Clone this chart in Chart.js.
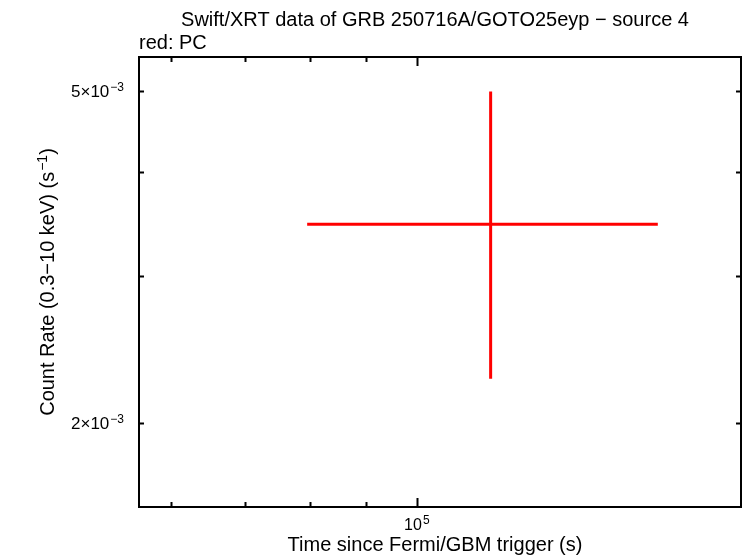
<!DOCTYPE html>
<html>
<head>
<meta charset="utf-8">
<script src="https://cdn.jsdelivr.net/npm/chart.js@4.4.0/dist/chart.umd.min.js"></script>
<style>
  html, body { margin: 0; padding: 0; background: #fff; }
  #wrap { width: 746px; height: 558px; }
</style>
</head>
<body>
<div id="wrap"><canvas id="lc" width="746" height="558"></canvas></div>
<script>
// PC mode point (time bin + rate error)
const timeMid = [116600];
const timeLo = [79600];
const timeHi = [165100];
const rateMid = [3.46e-3];
const rateLo = [2.26e-3];
const rateHi = [4.99e-3];

const xRange = [56100, 196300];
const yRange = [1.586e-3, 5.49e-3];

const xMajorTicks = [1e5];
const xTickLabels = ['10^5'];
const xMinorTicks = [6e4, 7e4, 8e4, 9e4];
const yMajorTicks = [2e-3, 5e-3];
const yTickLabels = ['2×10^−3', '5×10^−3'];
const yMinorTicks = [3e-3, 4e-3];

const titleText = 'Swift/XRT data of GRB 250716A/GOTO25eyp − source 4';
const subTitleText = 'red: PC';
const xAxisTitle = 'Time since Fermi/GBM trigger (s)';
const yAxisTitle = 'Count Rate (0.3−10 keV) (s^−1)';

const FONT = "'Liberation Sans', Arial, sans-serif";
const RED = '#ff0000';

// split "10^5" into normal / superscript pieces
function splitSup(s) {
    var parts = [];
    var buf = '';
    var i = 0;
    while (i < s.length) {
        if (s[i] === '^') {
            if (buf) parts.push({ t: buf, sup: false });
            buf = '';
            i++;
            var sup = '';
            while (i < s.length && '−-0123456789'.indexOf(s[i]) >= 0) {
                sup += s[i];
                i++;
            }
            parts.push({ t: sup, sup: true });
        } else {
            buf += s[i];
            i++;
        }
    }
    if (buf) parts.push({ t: buf, sup: false });
    return parts;
}

function drawRich(ctx, s, x, y, size, align) {
    var parts = splitSup(s);
    var supSize = Math.round(size * 0.72);
    var w = 0;
    parts.forEach(function(p) {
        ctx.font = (p.sup ? supSize : size) + 'px ' + FONT;
        p.w = ctx.measureText(p.t).width + (p.sup ? 1 : 0);
        w += p.w;
    });
    var cx = x;
    if (align === 'center') cx = x - w / 2;
    if (align === 'right') cx = x - w;
    ctx.textAlign = 'left';
    ctx.textBaseline = 'alphabetic';
    parts.forEach(function(p) {
        ctx.font = (p.sup ? supSize : size) + 'px ' + FONT;
        ctx.fillText(p.t, p.sup ? cx + 1 : cx, p.sup ? y - size * 0.36 : y);
        cx += p.w;
    });
}

// gnuplot style frame: inward ticks on all four sides, labels, titles
const framePlugin = {
    id: 'frame',
    afterDraw: function(chart) {
        var ctx = chart.ctx;
        var a = chart.chartArea;
        var xs = chart.scales.x;
        var ys = chart.scales.y;
        ctx.save();
        ctx.strokeStyle = '#000';
        ctx.fillStyle = '#000';
        ctx.lineWidth = 2;
        ctx.strokeRect(a.left, a.top, a.right - a.left, a.bottom - a.top);

        function xTick(v, len) {
            var px = Math.round(xs.getPixelForValue(v)) + 0.5;
            ctx.beginPath();
            ctx.moveTo(px, a.bottom); ctx.lineTo(px, a.bottom - len);
            ctx.moveTo(px, a.top); ctx.lineTo(px, a.top + len);
            ctx.stroke();
        }
        function yTick(v, len) {
            var py = Math.round(ys.getPixelForValue(v)) + 0.5;
            ctx.beginPath();
            ctx.moveTo(a.left, py); ctx.lineTo(a.left + len, py);
            ctx.moveTo(a.right, py); ctx.lineTo(a.right - len, py);
            ctx.stroke();
        }
        xMinorTicks.forEach(function(v) { xTick(v, 5); });
        xMajorTicks.forEach(function(v) { xTick(v, 9); });
        yMinorTicks.forEach(function(v) { yTick(v, 5); });
        yMajorTicks.forEach(function(v) { yTick(v, 5); });

        xMajorTicks.forEach(function(v, i) {
            drawRich(ctx, xTickLabels[i], xs.getPixelForValue(v), a.bottom + 23, 16, 'center');
        });
        yMajorTicks.forEach(function(v, i) {
            drawRich(ctx, yTickLabels[i], a.left - 15, ys.getPixelForValue(v) + 6, 17, 'right');
        });

        drawRich(ctx, titleText, (a.left + a.right) / 2 - 5, 26, 20, 'center');
        drawRich(ctx, subTitleText, a.left, 49, 20, 'left');
        drawRich(ctx, xAxisTitle, (a.left + a.right) / 2 - 5, 551, 20, 'center');

        ctx.translate(54, (a.top + a.bottom) / 2);
        ctx.rotate(-Math.PI / 2);
        drawRich(ctx, yAxisTitle, 0, 0, 20, 'center');
        ctx.restore();
    }
};

var datasets = [];
for (var i = 0; i < timeMid.length; i++) {
    datasets.push({
        data: [{ x: timeLo[i], y: rateMid[i] }, { x: timeHi[i], y: rateMid[i] }],
        showLine: true, borderColor: RED, borderWidth: 3, pointRadius: 0
    });
    datasets.push({
        data: [{ x: timeMid[i], y: rateLo[i] }, { x: timeMid[i], y: rateHi[i] }],
        showLine: true, borderColor: RED, borderWidth: 3, pointRadius: 0
    });
}

new Chart(document.getElementById('lc').getContext('2d'), {
    type: 'scatter',
    data: { datasets: datasets },
    options: {
        responsive: false,
        animation: false,
        layout: { padding: { left: 139, right: 5, top: 57, bottom: 51 } },
        plugins: { legend: { display: false }, tooltip: { enabled: false } },
        scales: {
            x: { type: 'logarithmic', min: xRange[0], max: xRange[1], display: false },
            y: { type: 'logarithmic', min: yRange[0], max: yRange[1], display: false }
        }
    },
    plugins: [framePlugin]
});
</script>
</body>
</html>
